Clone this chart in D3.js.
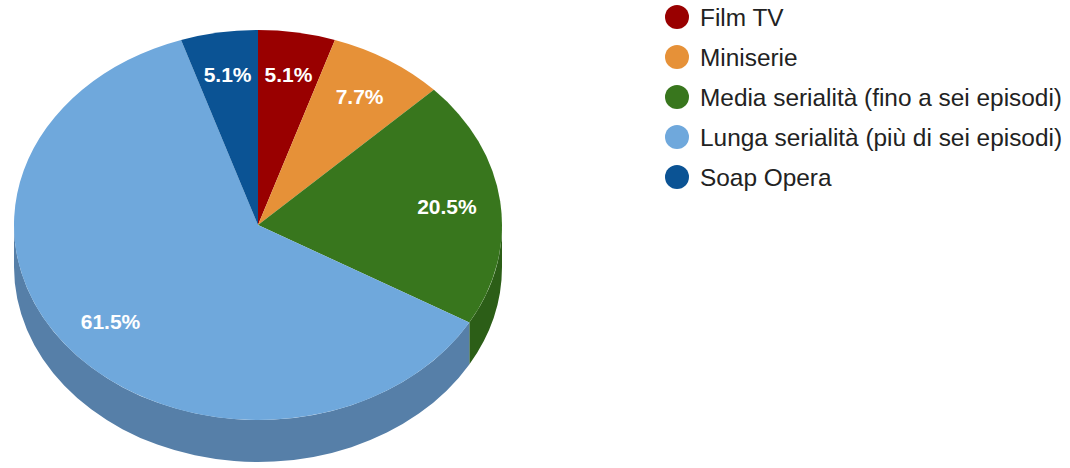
<!DOCTYPE html>
<html>
<head>
<meta charset="utf-8">
<script src="https://cdn.jsdelivr.net/npm/d3@7"></script>
<style>
  html, body { margin: 0; padding: 0; background: #fff; }
  svg { display: block; font-family: "Liberation Sans", Arial, Helvetica, sans-serif; }
</style>
</head>
<body>
<svg id="chart" width="1070" height="468"></svg>
<script>
// Share of titles by format (percent)
const categories = [
  "Film TV",
  "Miniserie",
  "Media serialità (fino a sei episodi)",
  "Lunga serialità (più di sei episodi)",
  "Soap Opera"
];
const values = [5.1, 7.7, 20.5, 61.5, 5.1];
const labels = ["5.1%", "7.7%", "20.5%", "61.5%", "5.1%"];

// Slice colours (top face) and the darker tone used for the rim
const topColors  = ["#990000", "#e69138", "#38761d", "#6fa8dc", "#0b5394"];
const sideColors = ["#7a0000", "#b87430", "#2c5e17", "#567fa8", "#09427a"];

const svg = d3.select("#chart");

// Tilted pie geometry
const cx = 258, cy = 225, rx = 244, ry = 195, depth = 42;
const labelFrac = 0.78;

const pie = d3.pie().sort(null).value(d => d);
const slices = pie(values).map((s, i) => ({ ...s, i }));

const pt = a => [cx + rx * Math.sin(a), cy - ry * Math.cos(a)];

// Rim: only the front half of the ellipse (angles PI/2 .. 3PI/2) is visible
const rim = svg.append("g").attr("class", "rim");
const front0 = Math.PI / 2, front1 = 3 * Math.PI / 2;
slices.forEach(s => {
  const a = Math.max(s.startAngle, front0);
  const b = Math.min(s.endAngle, front1);
  if (b <= a) return;
  const [x0, y0] = pt(a), [x1, y1] = pt(b);
  const large = (b - a) > Math.PI ? 1 : 0;
  // elliptical arc along the top edge, then back along the bottom edge
  const d = `M${x0},${y0} A${rx},${ry} 0 ${large} 1 ${x1},${y1}` +
            ` L${x1},${y1 + depth} A${rx},${ry} 0 ${large} 0 ${x0},${y0 + depth} Z`;
  rim.append("path").attr("d", d).attr("fill", sideColors[s.i]);
});

// Top face: circular arcs squashed vertically into the ellipse
const arc = d3.arc().innerRadius(0).outerRadius(rx);
svg.append("g")
  .attr("transform", `translate(${cx},${cy}) scale(1,${ry / rx})`)
  .selectAll("path")
  .data(slices)
  .join("path")
  .attr("d", arc)
  .attr("fill", d => topColors[d.i]);

// Percentage labels placed along each slice's mid-angle
svg.append("g")
  .selectAll("text")
  .data(slices)
  .join("text")
  .attr("x", d => cx + rx * labelFrac * Math.sin((d.startAngle + d.endAngle) / 2))
  .attr("y", d => cy - ry * labelFrac * Math.cos((d.startAngle + d.endAngle) / 2))
  .attr("text-anchor", "middle")
  .attr("dominant-baseline", "central")
  .attr("fill", "#fff")
  .attr("font-size", 21)
  .attr("font-weight", "bold")
  .text(d => labels[d.i]);

// Legend
const legend = svg.append("g").attr("transform", "translate(677,17)");
const rows = legend.selectAll("g")
  .data(categories)
  .join("g")
  .attr("transform", (d, i) => `translate(0,${i * 40})`);
rows.append("circle").attr("r", 12).attr("fill", (d, i) => topColors[i]);
rows.append("text")
  .attr("x", 23)
  .attr("dominant-baseline", "central")
  .attr("font-size", 24.4)
  .attr("fill", "#222")
  .text(d => d);
</script>
</body>
</html>
